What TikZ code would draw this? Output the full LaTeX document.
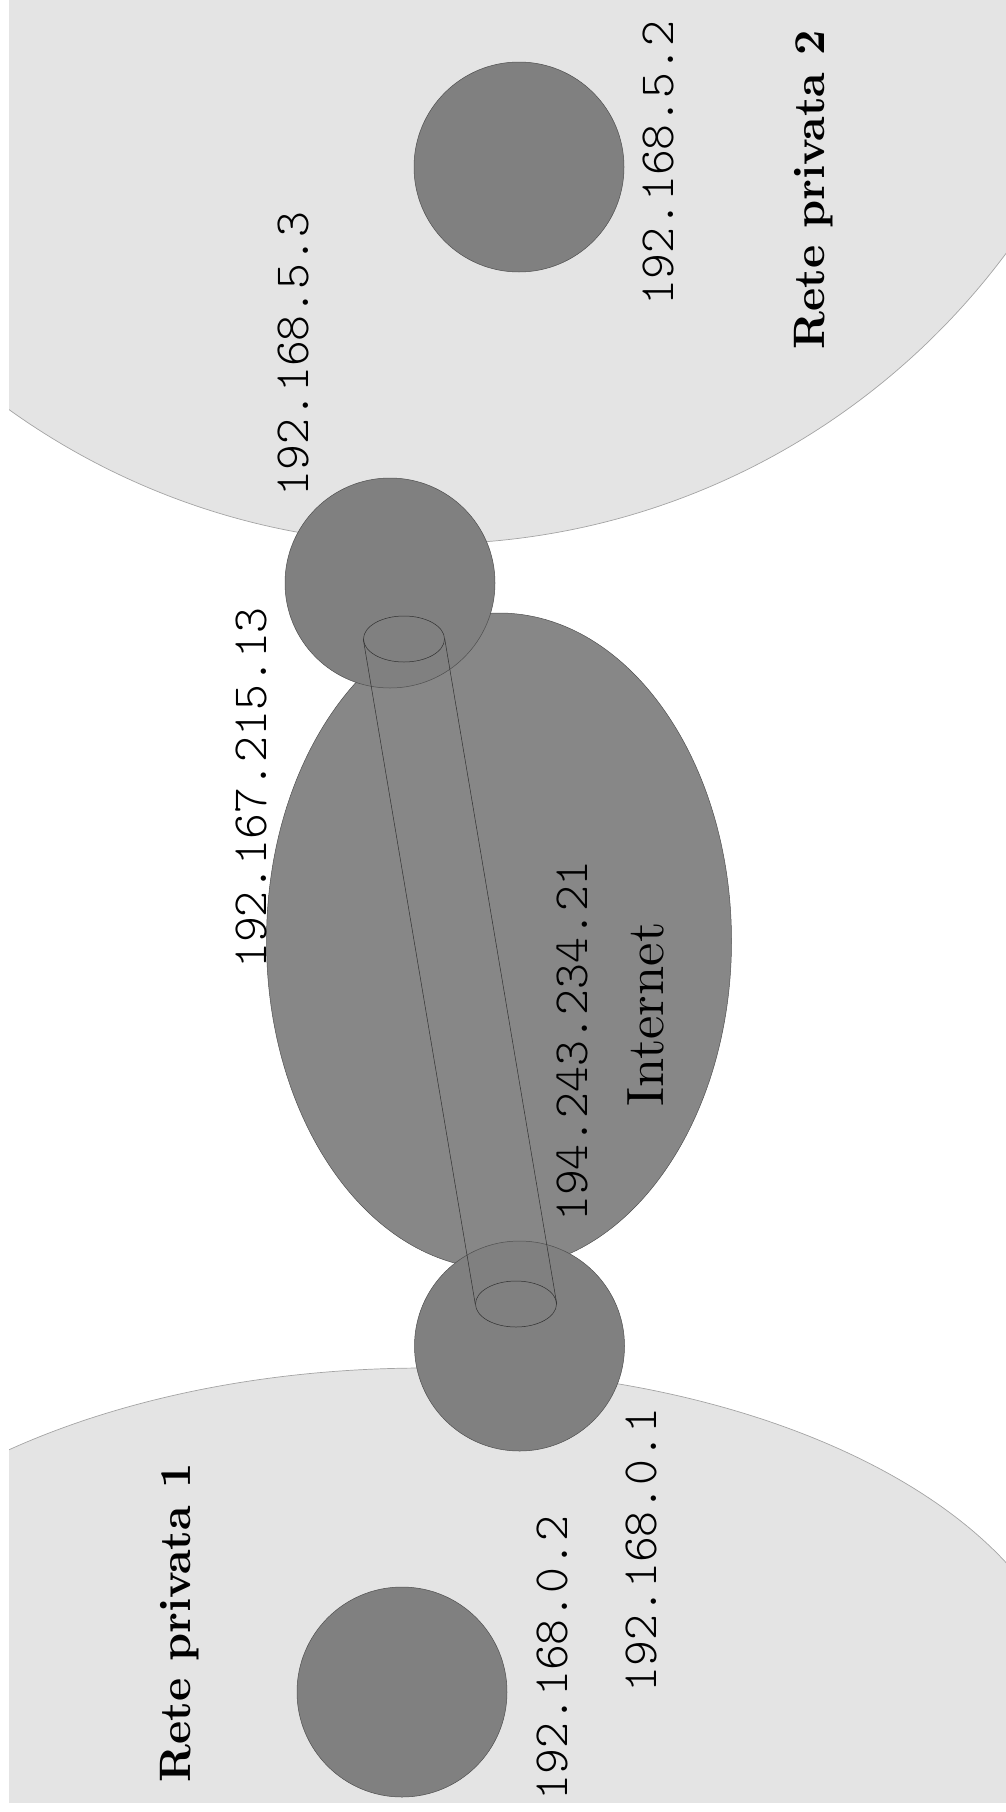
\documentclass[tikz,border=0pt]{standalone}
\usepackage{fontspec}
\usetikzlibrary{shapes.geometric}
\newfontfamily\ipfont{lmmonolt10-regular.otf}
\newfontfamily\serifreg{lmroman10-regular.otf}
\newfontfamily\serifbold{lmroman10-bold.otf}
\definecolor{regionfill}{HTML}{E4E4E4}
\definecolor{regionline}{HTML}{A4A4A4}
\definecolor{hostfill}{HTML}{808080}
\definecolor{netfill}{HTML}{878787}
\definecolor{edgeline}{HTML}{505050}
\definecolor{tubeline}{HTML}{303030}
\begin{document}
\begin{tikzpicture}[x=1pt,y=-1pt,
  region/.style={fill=regionfill,draw=regionline,line width=0.7pt},
  hostnode/.style={circle,fill=hostfill,draw=edgeline,line width=0.5pt,minimum size=210pt,inner sep=0pt},
  netnode/.style={ellipse,fill=netfill,draw=edgeline,line width=0.5pt,minimum width=465pt,minimum height=656pt,inner sep=0pt},
  tubeend/.style={ellipse,draw=tubeline,line width=0.5pt,minimum width=81pt,minimum height=46pt,inner sep=0pt},
  tubeline/.style={draw=tubeline,line width=0.5pt},
  iplabel/.style={font=\ipfont\fontsize{49.2}{49.2}\selectfont,inner sep=0pt,rotate=90},
  netlabel/.style={font=\serifbold\fontsize{44}{44}\selectfont,inner sep=0pt,rotate=90},
  inetlabel/.style={font=\serifreg\fontsize{52.5}{52.5}\selectfont,inner sep=0pt,rotate=90}]
\useasboundingbox (0,0) rectangle (1006,1812);
\begin{scope}
  \clip (9,-10) rectangle (1016,1802);
  \path[region] (428,-176) circle[radius=720pt];
  \path[region] (425,1721) ellipse[x radius=650pt, y radius=353pt];
\end{scope}
\node[netnode] (internet) at (499,941) {};
\node[hostnode] (host2) at (519,167) {};
\node[hostnode] (host1) at (402,1692) {};
\node[hostnode] (router2) at (390,583) {};
\node[hostnode] (router1) at (519.5,1346) {};
\node[tubeend] (tubetop) at (404,639) {};
\node[tubeend] (tubebot) at (516,1304) {};
\draw[tubeline] (tubetop.west) -- (tubebot.west);
\draw[tubeline] (tubetop.east) -- (tubebot.east);
\node[iplabel] (ip53) at (293.5,354) {192.168.5.3};
\node[iplabel] (ip52) at (658.6,163) {192.168.5.2};
\node[netlabel] (rete2) at (814,190) {Rete privata 2};
\node[iplabel] (ippub2) at (251,788) {192.167.215.13};
\node[iplabel] (ippub1) at (572,1041) {194.243.234.21};
\node[inetlabel] (inetname) at (645.5,1014.5) {Internet};
\node[netlabel] (rete1) at (179.5,1623) {Rete privata 1};
\node[iplabel] (ip02) at (552,1658) {192.168.0.2};
\node[iplabel] (ip01) at (641.6,1550) {192.168.0.1};
\end{tikzpicture}
\end{document}
